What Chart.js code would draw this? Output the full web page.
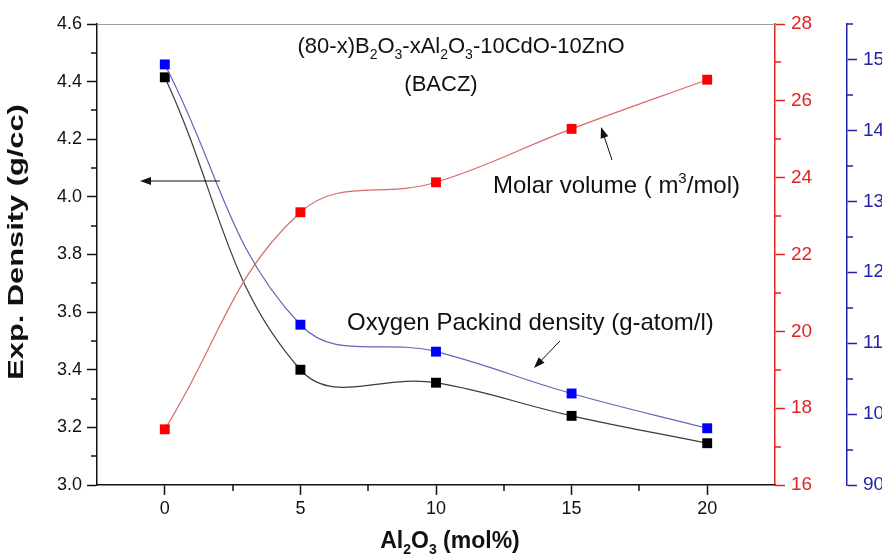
<!DOCTYPE html>
<html>
<head>
<meta charset="utf-8">
<script src="https://cdn.jsdelivr.net/npm/chart.js@4.4.1/dist/chart.umd.min.js"></script>
<style>
  body { margin: 0; background: #fff; }
  canvas { display: block; }
</style>
</head>
<body>
<canvas id="chart" width="882" height="558"></canvas>
<script>
// Al2O3 content (mol%)
const alumina = [0, 5, 10, 15, 20];
// Exp. density (g/cc) - left axis
const density = [4.415, 3.40, 3.355, 3.24, 3.145];
// Molar volume - red right axis
const molarVolume = [17.45, 23.10, 23.88, 25.27, 26.55];
// Oxygen packing density - blue outer axis
const oxygenPacking = [149.3, 112.6, 108.8, 102.9, 98.0];

const xTicks = [0, 5, 10, 15, 20];
const xMinor = [2.5, 7.5, 12.5, 17.5];
const densityTicks = [3.0, 3.2, 3.4, 3.6, 3.8, 4.0, 4.2, 4.4, 4.6];
const densityMinor = [3.1, 3.3, 3.5, 3.7, 3.9, 4.1, 4.3, 4.5];
const volumeTicks = [16, 18, 20, 22, 24, 26, 28];
const volumeMinor = [17, 19, 21, 23, 25, 27];
const packingTicks = [90, 100, 110, 120, 130, 140, 150];
const packingMinor = [95, 105, 115, 125, 135, 145, 155];

const FONT = "'Liberation Sans', Arial, sans-serif";
const RED = '#e42222';
const BLUE = '#2222a8';

function toPoints(ys) {
    return alumina.map((x, i) => ({ x: x, y: ys[i] }));
}

function fixTicks(values) {
    return function(scale) {
        scale.ticks = values.map(v => ({ value: v }));
    };
}

// draw text made of normal / sub / sup pieces
function richText(ctx, parts, x, y, size, bold, align) {
    const main = (bold ? 'bold ' : '') + size + 'px ' + FONT;
    const small = (bold ? 'bold ' : '') + Math.round(size * 0.62) + 'px ' + FONT;
    let total = 0;
    parts.forEach(p => {
        ctx.font = p[1] === 'n' ? main : small;
        total += ctx.measureText(p[0]).width;
    });
    let cx = align === 'center' ? x - total / 2 : x;
    ctx.textAlign = 'left';
    ctx.textBaseline = 'alphabetic';
    parts.forEach(p => {
        ctx.font = p[1] === 'n' ? main : small;
        let dy = 0;
        if (p[1] === 'sub') dy = size * 0.28;
        if (p[1] === 'sup') dy = -size * 0.42;
        ctx.fillText(p[0], cx, y + dy);
        cx += ctx.measureText(p[0]).width;
    });
}

function arrow(ctx, x1, y1, x2, y2) {
    const ang = Math.atan2(y2 - y1, x2 - x1);
    const len = 11, w = 4;
    ctx.strokeStyle = '#111';
    ctx.fillStyle = '#111';
    ctx.lineWidth = 1;
    ctx.beginPath();
    ctx.moveTo(x1, y1);
    ctx.lineTo(x2 - Math.cos(ang) * len * 0.8, y2 - Math.sin(ang) * len * 0.8);
    ctx.stroke();
    ctx.beginPath();
    ctx.moveTo(x2, y2);
    ctx.lineTo(x2 - Math.cos(ang) * len - Math.sin(ang) * w, y2 - Math.sin(ang) * len + Math.cos(ang) * w);
    ctx.lineTo(x2 - Math.cos(ang) * len + Math.sin(ang) * w, y2 - Math.sin(ang) * len - Math.cos(ang) * w);
    ctx.closePath();
    ctx.fill();
}

const extras = {
    id: 'extras',
    afterDraw(chart) {
        const ctx = chart.ctx;
        const area = chart.chartArea;
        const s = chart.scales;
        ctx.save();

        // top frame line
        ctx.strokeStyle = '#9a9a9a';
        ctx.lineWidth = 1;
        ctx.beginPath();
        ctx.moveTo(area.left, area.top + 0.5);
        ctx.lineTo(area.right, area.top + 0.5);
        ctx.stroke();

        // minor ticks
        ctx.lineWidth = 1.5;
        ctx.strokeStyle = '#111';
        xMinor.forEach(v => {
            const px = Math.round(s.x.getPixelForValue(v));
            ctx.beginPath();
            ctx.moveTo(px, area.bottom);
            ctx.lineTo(px, area.bottom + 6);
            ctx.stroke();
        });
        densityMinor.forEach(v => {
            const py = Math.round(s.y.getPixelForValue(v));
            ctx.beginPath();
            ctx.moveTo(area.left, py);
            ctx.lineTo(area.left - 6, py);
            ctx.stroke();
        });
        ctx.strokeStyle = RED;
        volumeMinor.forEach(v => {
            const py = Math.round(s.y1.getPixelForValue(v));
            ctx.beginPath();
            ctx.moveTo(s.y1.left, py);
            ctx.lineTo(s.y1.left + 6, py);
            ctx.stroke();
        });
        ctx.strokeStyle = BLUE;
        packingMinor.forEach(v => {
            const py = Math.round(s.y2.getPixelForValue(v));
            ctx.beginPath();
            ctx.moveTo(s.y2.left, py);
            ctx.lineTo(s.y2.left + 6, py);
            ctx.stroke();
        });

        // axis titles
        ctx.fillStyle = '#111';
        richText(ctx, [['Al', 'n'], ['2', 'sub'], ['O', 'n'], ['3', 'sub'], [' (mol%)', 'n']],
            450, 548, 23, true, 'center');

        ctx.save();
        ctx.translate(23, 242);
        ctx.rotate(-Math.PI / 2);
        ctx.scale(1.4, 1);
        ctx.font = 'bold 22px ' + FONT;
        ctx.textAlign = 'center';
        ctx.textBaseline = 'alphabetic';
        ctx.fillText('Exp. Density (g/cc)', 0, 0);
        ctx.restore();

        // composition label
        richText(ctx, [['(80-x)B', 'n'], ['2', 'sub'], ['O', 'n'], ['3', 'sub'], ['-xAl', 'n'], ['2', 'sub'],
            ['O', 'n'], ['3', 'sub'], ['-10CdO-10ZnO', 'n']], 461, 53, 22, false, 'center');
        richText(ctx, [['(BACZ)', 'n']], 441, 91, 22, false, 'center');

        // series notes
        richText(ctx, [['Molar volume ( m', 'n'], ['3', 'sup'], ['/mol)', 'n']], 493, 193, 24, false, 'left');
        richText(ctx, [['Oxygen Packind density (g-atom/l)', 'n']], 347, 330, 24, false, 'left');

        arrow(ctx, 220, 181, 140, 181);
        arrow(ctx, 612, 160, 601, 127);
        arrow(ctx, 560, 341, 534, 368);

        ctx.restore();
    }
};

const ctx = document.getElementById('chart');
new Chart(ctx, {
    type: 'line',
    data: {
        datasets: [
            {
                label: 'Molar volume',
                data: toPoints(molarVolume),
                yAxisID: 'y1',
                borderColor: '#d86a6a',
                borderWidth: 1.2,
                backgroundColor: '#ff0000',
                pointBackgroundColor: '#ff0000',
                pointBorderColor: '#ff0000',
                pointStyle: 'rect',
                pointRadius: 7,
                pointBorderWidth: 0,
                tension: 0.4
            },
            {
                label: 'Oxygen packing density',
                data: toPoints(oxygenPacking),
                yAxisID: 'y2',
                borderColor: '#6464b8',
                borderWidth: 1.2,
                backgroundColor: '#0000ff',
                pointBackgroundColor: '#0000ff',
                pointBorderColor: '#0000ff',
                pointStyle: 'rect',
                pointRadius: 7,
                pointBorderWidth: 0,
                tension: 0.4
            },
            {
                label: 'Exp. density',
                data: toPoints(density),
                yAxisID: 'y',
                borderColor: '#3a3a3a',
                borderWidth: 1.2,
                backgroundColor: '#000',
                pointBackgroundColor: '#000',
                pointBorderColor: '#000',
                pointStyle: 'rect',
                pointRadius: 7,
                pointBorderWidth: 0,
                tension: 0.4
            }
        ]
    },
    options: {
        responsive: false,
        animation: false,
        devicePixelRatio: 1,
        layout: { padding: { top: 24, right: 0, bottom: 0, left: 0 } },
        plugins: {
            legend: { display: false },
            tooltip: { enabled: false }
        },
        scales: {
            x: {
                type: 'linear',
                min: -2.5,
                max: 22.5,
                afterBuildTicks: fixTicks(xTicks),
                afterFit: function(scale) { scale.height = 73; },
                grid: { drawOnChartArea: false, tickLength: 10, tickWidth: 1.5, tickColor: '#111' },
                border: { display: true, color: '#111', width: 1.5 },
                ticks: { color: '#111', font: { size: 18, family: FONT }, padding: 3, maxRotation: 0 }
            },
            y: {
                position: 'left',
                min: 3.0,
                max: 4.6,
                afterBuildTicks: fixTicks(densityTicks),
                afterFit: function(scale) { scale.width = 97; },
                grid: { drawOnChartArea: false, tickLength: 10, tickWidth: 1.5, tickColor: '#111' },
                border: { display: true, color: '#111', width: 1.5 },
                ticks: {
                    color: '#111',
                    font: { size: 18, family: FONT },
                    padding: 5,
                    callback: function(v) { return Number(v).toFixed(1); }
                }
            },
            y1: {
                position: 'right',
                min: 16,
                max: 28,
                afterBuildTicks: fixTicks(volumeTicks),
                afterFit: function(scale) { scale.width = 72; },
                grid: { drawOnChartArea: false, tickLength: 10, tickWidth: 1.5, tickColor: RED },
                border: { display: true, color: RED, width: 1.5 },
                ticks: { color: RED, font: { size: 19, family: FONT }, padding: 6 }
            },
            y2: {
                position: 'right',
                min: 90,
                max: 155,
                afterBuildTicks: fixTicks(packingTicks),
                afterFit: function(scale) { scale.width = 35; },
                grid: { drawOnChartArea: false, tickLength: 10, tickWidth: 1.5, tickColor: BLUE },
                border: { display: true, color: BLUE, width: 1.5 },
                ticks: { color: BLUE, font: { size: 19, family: FONT }, padding: 6 }
            }
        }
    },
    plugins: [extras]
});
</script>
</body>
</html>
